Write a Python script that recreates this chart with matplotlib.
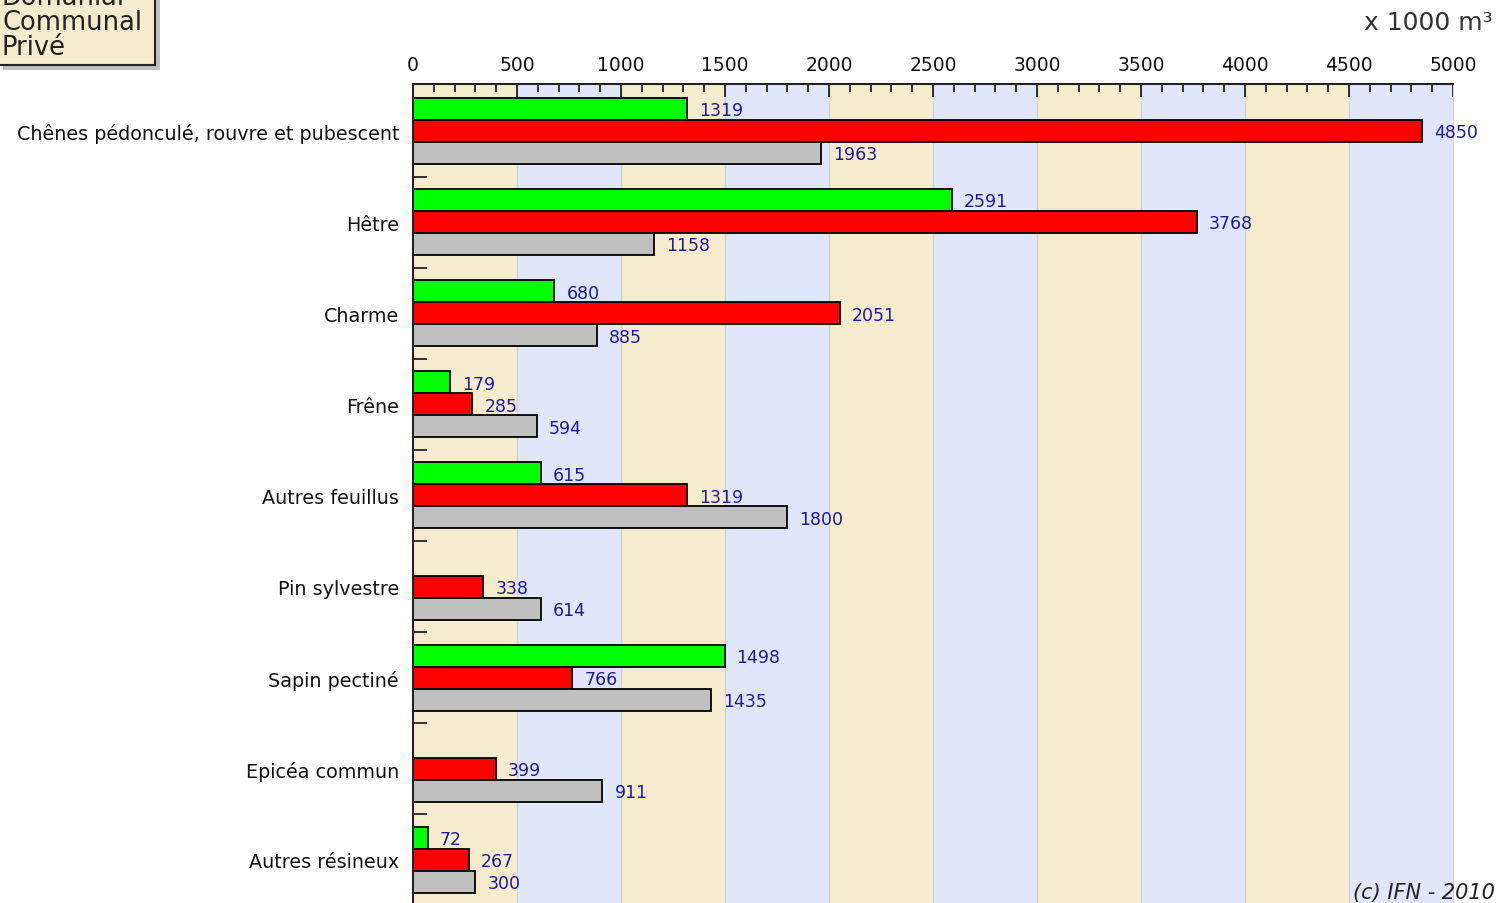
import matplotlib
matplotlib.use("Agg")
import matplotlib.pyplot as plt
from matplotlib.patches import Rectangle
import numpy as np

categories = ["Chênes pédonculé, rouvre et pubescent", "Hêtre", "Charme", "Frêne",
              "Autres feuillus", "Pin sylvestre", "Sapin pectiné", "Epicéa commun",
              "Autres résineux"]
domanial = [1319, 2591, 680, 179, 615, 0, 1498, 0, 72]
communal = [4850, 3768, 2051, 285, 1319, 338, 766, 399, 267]
prive = [1963, 1158, 885, 594, 1800, 614, 1435, 911, 300]
series_names = ["Domanial", "Communal", "Privé"]
series_colors = ["#00ff00", "#ff0000", "#c0c0c0"]
x_ticks = [0, 500, 1000, 1500, 2000, 2500, 3000, 3500, 4000, 4500, 5000]

W, H = 1499, 904
fig = plt.figure(figsize=(W / 100, H / 100), dpi=100)
plt.rcParams['font.family'] = ['DejaVu Sans']

# axes geometry in pixels
ax_left, ax_right, ax_top = 413, 1453, 85
pitch = 91.1
ymin_d, ymax_d = -0.516, 8.52
ax_bottom = ax_top + (ymax_d - ymin_d) * pitch
ax = fig.add_axes([ax_left / W, 1 - ax_bottom / H, (ax_right - ax_left) / W, (ax_bottom - ax_top) / H])
ax.set_xlim(0, 5000)
ax.set_ylim(ymax_d, ymin_d)

# background bands
band_cols = ["#f5ecce", "#e1e6fc"]
for i in range(10):
    ax.axvspan(i * 500, (i + 1) * 500, color=band_cols[i % 2], zorder=0, lw=0)
for xv in x_ticks[1:]:
    ax.axvline(xv, color="#d4d4d4", lw=1, zorder=0.5)

bh = 22 / pitch
y = np.arange(len(categories))
vals = [domanial, communal, prive]
offsets = [-bh, 0, bh]
for v, off, col in zip(vals, offsets, series_colors):
    for yi, val in zip(y, v):
        if val <= 0:
            continue
        ax.barh(yi + off, val, height=bh, color=col, edgecolor="black", linewidth=1.3, zorder=2)
        ax.annotate(str(val), xy=(val, yi + off), xytext=(12 * 0.72, -1), textcoords="offset points",
                    ha="left", va="center", fontsize=12.5, color="#1a1a99", zorder=3)

# axes styling
ax.spines["bottom"].set_visible(False)
ax.spines["right"].set_color("#d4d4d4")
ax.spines["top"].set_color("#222222")
ax.spines["left"].set_color("#222222")
ax.spines["top"].set_linewidth(1.5)
ax.spines["left"].set_linewidth(1.5)

ax.xaxis.tick_top()
ax.set_xticks(x_ticks)
ax.set_xticklabels([str(t) for t in x_ticks])
ax.set_xticks(np.arange(0, 5001, 100), minor=True)
ax.tick_params(axis="x", which="major", direction="in", length=9, width=1.3, color="#222222",
               pad=7, labelsize=13.5, labelcolor="#111111")
ax.tick_params(axis="x", which="minor", direction="in", length=6, width=1.3, color="#222222")
ax.tick_params(axis="x", bottom=False, which="both")

ax.set_yticks(y + 0.5, minor=True)
ax.set_yticks(y)
ax.set_yticklabels(categories)
ax.tick_params(axis="y", which="major", length=0, pad=10, labelsize=13.8, labelcolor="#111111")
ax.tick_params(axis="y", which="minor", direction="in", length=10, width=1.3, color="#222222")

# unit label and copyright
fig.text(1493 / W, 1 - 23 / H, "x 1000 m³", ha="right", va="center", fontsize=18, color="#333333")
fig.text(1495 / W, 1 - 893 / H, "(c) IFN - 2010", ha="right", va="center", fontsize=15,
         style="italic", color="#222222")

# legend box (partially clipped)
shadow = Rectangle((3 / W, 1 - 71 / H), 157 / W, 90 / H, transform=fig.transFigure,
                   facecolor="#c0c0c0", edgecolor="none", zorder=5)
box = Rectangle((-2 / W, 1 - 66 / H), 157 / W, 90 / H, transform=fig.transFigure,
                facecolor="#f5ecce", edgecolor="#222222", lw=1.5, zorder=6)
fig.patches.extend([shadow, box])
for name, yc in zip(series_names, [-2, 23, 48]):
    fig.text(2 / W, 1 - yc / H, name, ha="left", va="center", fontsize=18.5, color="#222222", zorder=7)

fig.savefig("out.png", dpi=100)
